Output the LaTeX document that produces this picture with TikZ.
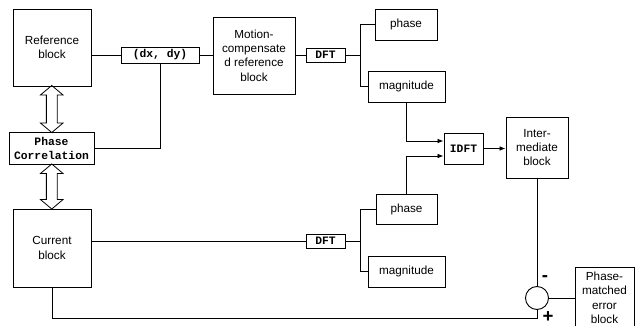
\documentclass[tikz,border=0pt]{standalone}
\usepackage{fontspec}
\setmainfont{Liberation Sans}
\setmonofont{Liberation Mono}
\usepackage{tikz}
\usetikzlibrary{arrows.meta,calc,shapes.arrows}

\begin{document}
\begin{tikzpicture}[
    x=0.75pt, y=-0.75pt,
    box/.style={rectangle, draw, line width=0.7pt, inner sep=0pt, align=center,
        font=\fontsize{8.8pt}{10.8pt}\selectfont},
    code/.style={box, font=\fontsize{8.5pt}{10.5pt}\selectfont\ttfamily\bfseries},
    arrow/.style={-{Latex[length=4.5pt,width=3.5pt]}},
    wire/.style={line width=0.6pt},
    dbl/.style={double arrow, draw, line width=0.6pt, rotate=90, inner xsep=0pt, inner ysep=3.75pt,
        minimum width=16.5pt, double arrow tip angle=100, double arrow head extend=4.5pt},
    sign/.style={inner sep=0pt, font=\fontsize{14pt}{14pt}\selectfont\bfseries}
]
    \useasboundingbox (0,0) rectangle (635,325);

    % Nodes
    \node[box, minimum width=58.5pt, minimum height=57.75pt] (ref) at (52,47.5) {Reference\\block};
    \node[code, minimum width=58.5pt, minimum height=12pt] (dxdy) at (160,55) {(dx, dy)};
    \node[box, minimum width=61.5pt, minimum height=57.75pt] (mc) at (254,55.5) {Motion-\\compensate\\d reference\\block};
    \node[code, minimum width=29.25pt, minimum height=10.5pt] (dft1) at (325.5,55) {DFT};
    \node[box, minimum width=46.5pt, minimum height=23.25pt] (phase1) at (406,24.5) {phase};
    \node[box, minimum width=57.75pt, minimum height=23.25pt] (mag1) at (406.5,86.5) {magnitude};
    \node[code, minimum width=29.25pt, minimum height=23.25pt] (idft) at (463.5,148.5) {IDFT};
    \node[box, minimum width=46.5pt, minimum height=45.75pt] (inter) at (537,147.5) {Inter-\\mediate\\block};
    \node[code, minimum width=63.75pt, minimum height=24pt] (pc) at (51.5,148) {Phase\\Correlation};
    \node[box, minimum width=58.5pt, minimum height=58.5pt] (cur) at (52,248) {Current\\block};
    \node[code, minimum width=29.25pt, minimum height=10.5pt] (dft2) at (325.5,241) {DFT};
    \node[box, minimum width=45.75pt, minimum height=22.5pt] (phase2) at (406.5,209) {phase};
    \node[box, minimum width=57.75pt, minimum height=23.25pt] (mag2) at (406.5,271.5) {magnitude};
    \node[circle, draw, line width=0.7pt, minimum size=17.25pt, inner sep=0pt] (sum) at (537,298) {};
    \node[box, minimum width=44.25pt, minimum height=46.5pt] (err) at (604.5,298) {Phase-\\matched\\error\\block};
    \node[sign] (minus) at (545,279) {-};
    \node[sign] (plus) at (548,317) {+};

    % Double arrows
    \node[dbl, minimum height=35.25pt] (ra) at ($(ref.south)!0.5!(pc.north)$) {};
    \node[dbl, minimum height=33.75pt] (ca) at ($(pc.south)!0.5!(cur.north)$) {};

    % Wires
    \coordinate (br1) at (360,55);
    \coordinate (br2) at (360,241);
    \draw[wire] (ref.east |- dxdy.west) -- (dxdy.west);
    \draw[wire] (dxdy.east) -- (mc.west |- dxdy.east);
    \draw[wire] (mc.east |- dft1.west) -- (dft1.west);
    \draw[wire] (pc.east) -| (dxdy.south);
    \draw[wire] (dft1.east) -- (br1) |- (phase1.west);
    \draw[wire] (br1) |- (mag1.west);
    \draw[wire] (cur.east |- dft2.west) -- (dft2.west);
    \draw[wire] (dft2.east) -- (br2) |- (phase2.west);
    \draw[wire] (br2) |- (mag2.west);
    \draw[wire] (cur.south) -- ++(0,31) -| (sum.south);
    \draw[wire] (inter.south) -- (sum.north);
    \draw[wire] (sum.east) -- (err.west);

    % Arrows
    \draw[wire, arrow] (mag1.south) |- ($(idft.west)+(0,-7.5)$);
    \draw[wire, arrow] (phase2.north) |- ($(idft.west)+(0,7.5)$);
    \draw[wire, arrow] (idft.east) -- (inter.west |- idft.east);
\end{tikzpicture}
\end{document}
